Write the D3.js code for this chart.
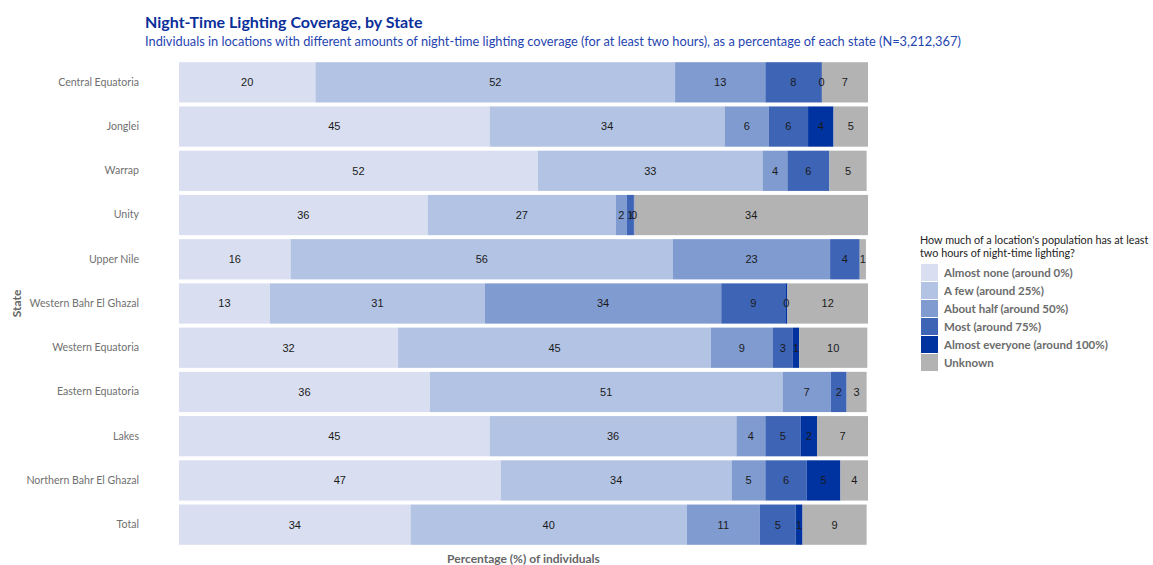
<!DOCTYPE html>
<html>
<head>
<meta charset="utf-8">
<script src="https://cdn.jsdelivr.net/npm/d3@7"></script>
<style>
  body { margin: 0; background: #fff; }
  svg text { font-family: Lato, "Open Sans", sans-serif; }
  .bar-label { font-family: "Liberation Sans", Arial, sans-serif !important; font-size: 11px; fill: #1a1a1a; }
</style>
</head>
<body>
<div id="chart"></div>
<script>
// chart data
const states = ["Central Equatoria", "Jonglei", "Warrap", "Unity", "Upper Nile",
  "Western Bahr El Ghazal", "Western Equatoria", "Eastern Equatoria", "Lakes",
  "Northern Bahr El Ghazal", "Total"];

const categories = ["Almost none (around 0%)", "A few (around 25%)", "About half (around 50%)",
  "Most (around 75%)", "Almost everyone (around 100%)", "Unknown"];

// one array per category, in state order (null = segment not present)
const almostNone     = [19.8, 45.1, 52.1, 36.1, 16.2, 13.2, 31.8, 36.4, 45.1, 46.7, 33.6];
const aFew           = [52.2, 34.1, 32.6, 27.3, 55.5, 31.2, 45.4, 51.2, 35.8, 33.5, 40.1];
const aboutHalf      = [13.1, 6.4, 3.6, 1.6, 22.8, 34.3, 9.0, 7.0, 4.2, 4.9, 10.6];
const most           = [8.1, 5.7, 6.1, 1.0, 4.3, 9.3, 2.9, 2.3, 5.1, 6.0, 5.2];
const almostEveryone = [0.1, 3.7, null, 0.1, null, 0.3, 0.9, null, 2.4, 4.9, 1.0];
const unknown        = [6.7, 5.0, 5.4, 33.9, 0.9, 11.7, 9.9, 2.9, 7.4, 4.0, 9.3];

const colors = ["#d9dff0", "#b3c3e3", "#7f9bd0", "#3e64b6", "#0033a0", "#b3b3b3"];

const title = "Night-Time Lighting Coverage, by State";
const subtitle = "Individuals in locations with different amounts of night-time lighting coverage (for at least two hours), as a percentage of each state (N=3,212,367)";

class StackedBar {
  constructor(_config) {
    this.config = {
      parentElement: _config.parentElement,
      containerWidth: _config.containerWidth || 1153,
      containerHeight: _config.containerHeight || 565,
      margin: { top: 60, bottom: 18, right: 285, left: 179 }
    };
    this.initVis();
  }

  initVis() {
    let vis = this;
    vis.width = vis.config.containerWidth - vis.config.margin.left - vis.config.margin.right;
    vis.height = vis.config.containerHeight - vis.config.margin.top - vis.config.margin.bottom;

    vis.svg = d3.select(vis.config.parentElement).append('svg')
      .attr('width', vis.config.containerWidth)
      .attr('height', vis.config.containerHeight);

    // build rows for the stack
    const series = [almostNone, aFew, aboutHalf, most, almostEveryone, unknown];
    vis.rows = states.map((s, i) => {
      const row = { state: s };
      categories.forEach((c, j) => { row[c] = series[j][i]; });
      return row;
    });

    vis.stack = d3.stack()
      .keys(categories)
      .value((d, key) => d[key] == null ? 0 : d[key]);
    vis.stacked = vis.stack(vis.rows);

    vis.xScale = d3.scaleLinear().domain([0, 100]).range([0, vis.width]);
    vis.yScale = d3.scaleBand().domain(states).range([0, vis.height]).paddingInner(0.09).paddingOuter(0.05);
    vis.color = d3.scaleOrdinal().domain(categories).range(colors);

    vis.chart = vis.svg.append('g')
      .attr('transform', `translate(${vis.config.margin.left}, ${vis.config.margin.top})`);

    this.renderVis();
  }

  renderVis() {
    let vis = this;

    const layers = vis.chart.selectAll('.layer')
      .data(vis.stacked)
      .join('g')
      .attr('class', 'layer')
      .attr('fill', d => vis.color(d.key));

    layers.selectAll('rect')
      .data(d => d.filter(p => p.data[d.key] != null))
      .join('rect')
      .attr('x', d => vis.xScale(d[0]))
      .attr('y', d => vis.yScale(d.data.state))
      .attr('width', d => vis.xScale(d[1]) - vis.xScale(d[0]))
      .attr('height', vis.yScale.bandwidth());

    // labels go on top of all the rects
    const segs = vis.stacked.flatMap(layer => layer.filter(p => p.data[layer.key] != null));
    vis.chart.append('g')
      .selectAll('text')
      .data(segs)
      .join('text')
      .attr('class', 'bar-label')
      .attr('x', d => (vis.xScale(d[0]) + vis.xScale(d[1])) / 2)
      .attr('y', d => vis.yScale(d.data.state) + vis.yScale.bandwidth() / 2)
      .attr('dy', '0.35em')
      .attr('text-anchor', 'middle')
      .text(d => Math.round(d[1] - d[0]));

    // y axis (labels only)
    const yAxis = d3.axisLeft(vis.yScale).tickSize(0).tickPadding(40);
    const yg = vis.chart.append('g').call(yAxis);
    yg.select('.domain').remove();
    yg.selectAll('text')
      .style('font-family', 'Lato, sans-serif')
      .style('font-size', '10.6px')
      .style('font-weight', 400)
      .attr('fill', '#707070');

    // axis titles
    vis.svg.append('text')
      .attr('transform', `translate(21, ${vis.config.margin.top + vis.height / 2}) rotate(-90)`)
      .attr('text-anchor', 'middle')
      .style('font-size', '12px')
      .style('font-weight', 700)
      .attr('fill', '#666')
      .text('State');

    vis.svg.append('text')
      .attr('x', vis.config.margin.left + vis.width / 2)
      .attr('y', 563)
      .attr('text-anchor', 'middle')
      .style('font-size', '12px')
      .style('font-weight', 700)
      .attr('fill', '#666')
      .text('Percentage (%) of individuals');

    // title + subtitle
    vis.svg.append('text')
      .attr('x', 145).attr('y', 28)
      .style('font-size', '16px').style('font-weight', 700)
      .attr('fill', '#0b2f9a')
      .text(title);
    vis.svg.append('text')
      .attr('x', 145).attr('y', 46)
      .style('font-size', '12.8px')
      .attr('fill', '#1f45b0')
      .text(subtitle);

    // legend
    const legend = vis.svg.append('g').attr('transform', 'translate(921, 244)');
    legend.append('text').attr('x', -1).attr('y', 0)
      .style('font-size', '10.8px').attr('fill', '#222')
      .text("How much of a location's population has at least");
    legend.append('text').attr('x', -1).attr('y', 13)
      .style('font-size', '10.8px').attr('fill', '#222')
      .text('two hours of night-time lighting?');

    const items = legend.selectAll('.item')
      .data(categories)
      .join('g')
      .attr('class', 'item')
      .attr('transform', (d, i) => `translate(0, ${20 + i * 18})`);
    items.append('rect')
      .attr('width', 17).attr('height', 17)
      .attr('fill', d => vis.color(d));
    items.append('text')
      .attr('x', 23).attr('y', 9).attr('dy', '0.35em')
      .style('font-size', '11.5px').style('font-weight', 700)
      .attr('fill', '#6b6b6b')
      .text(d => d);
  }
}

new StackedBar({ parentElement: '#chart' });
</script>
</body>
</html>
